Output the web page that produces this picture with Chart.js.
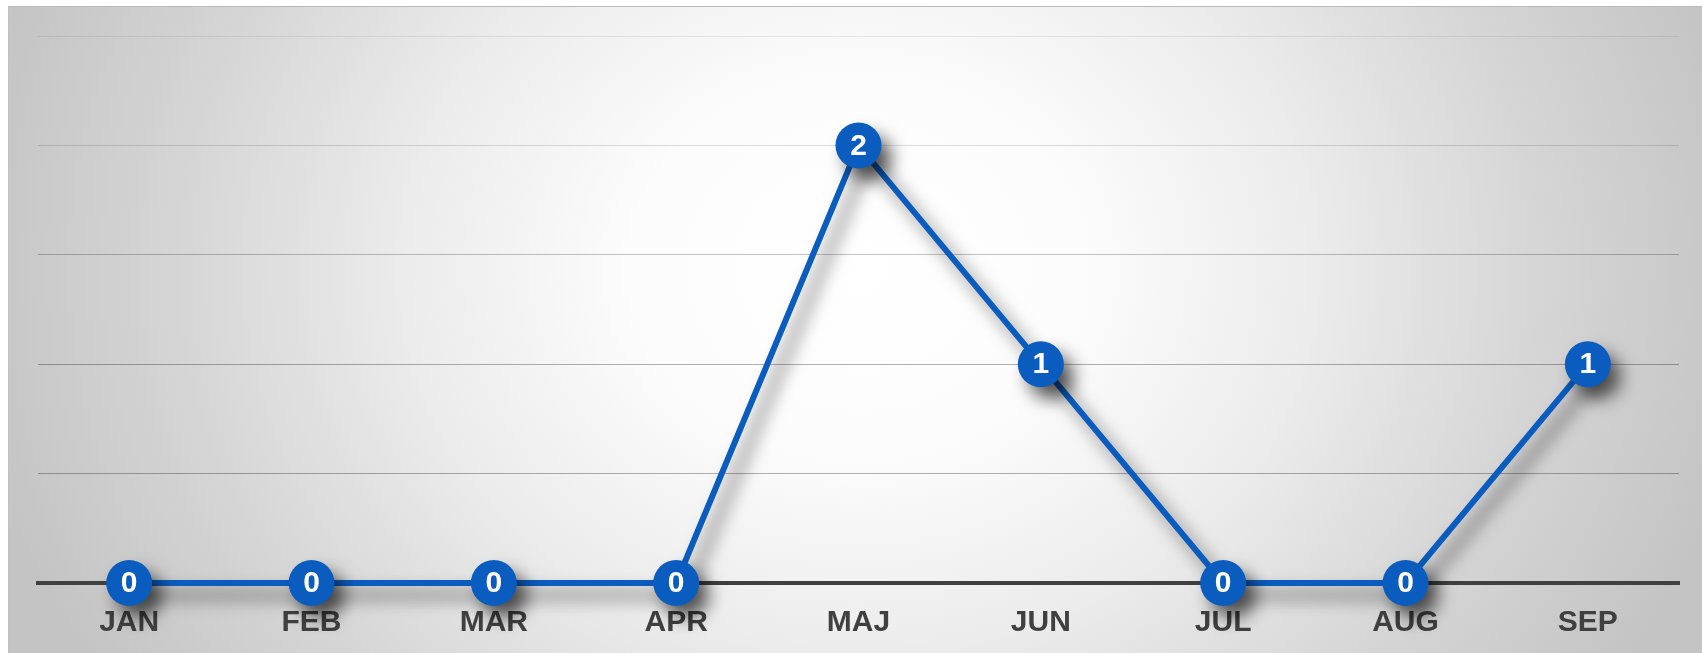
<!DOCTYPE html>
<html>
<head>
<meta charset="utf-8">
<script src="https://cdn.jsdelivr.net/npm/chart.js@4"></script>
<style>
  html, body { margin: 0; padding: 0; background: #fff; width: 1702px; height: 653px; overflow: hidden; }
  #panel {
    position: absolute; left: 8px; top: 6px; width: 1694px; height: 647px;
    box-sizing: border-box; border-top: 1px solid #b9b9b9; border-left: 1px solid #c2c2c2;
    background: radial-gradient(ellipse 900px 760px at 850px 260px, #ffffff 0%, #fcfcfc 25%, #ececec 50%, #d6d6d6 75%, #c4c4c4 100%);
  }
  #chart { position: absolute; left: 8px; top: 6px; }
</style>
</head>
<body>
<div id="panel"></div>
<canvas id="chart" width="1694" height="647"></canvas>
<script>
// månader och antal
const months = ['JAN', 'FEB', 'MAR', 'APR', 'MAJ', 'JUN', 'JUL', 'AUG', 'SEP'];
const counts = [0, 0, 0, 0, 2, 1, 0, 0, 1];
const yMax = 2.5;
const yStep = 0.5;

const blue = '#0a5cbe';

// skugga under linjen och punkterna
const shadowPlugin = {
    id: 'shadow',
    beforeDatasetDraw(chart) {
        const ctx = chart.ctx;
        ctx.save();
        ctx.shadowColor = 'rgba(0,0,0,0.62)';
        ctx.shadowBlur = 17;
        ctx.shadowOffsetX = 10;
        ctx.shadowOffsetY = 12;
    },
    afterDatasetDraw(chart) {
        chart.ctx.restore();
    }
};

// siffrorna i cirklarna
const valueLabels = {
    id: 'valueLabels',
    afterDatasetsDraw(chart) {
        const ctx = chart.ctx;
        const meta = chart.getDatasetMeta(0);
        ctx.save();
        ctx.fillStyle = '#ffffff';
        ctx.font = 'bold 30px "Liberation Sans", Arial, sans-serif';
        ctx.textAlign = 'center';
        ctx.textBaseline = 'middle';
        meta.data.forEach((pt, i) => {
            ctx.fillText(String(counts[i]), pt.x, pt.y + 1);
        });
        ctx.restore();
    }
};

new Chart(document.getElementById('chart'), {
    type: 'line',
    data: {
        labels: months,
        datasets: [{
            data: counts,
            borderColor: blue,
            backgroundColor: blue,
            borderWidth: 6,
            pointRadius: 23,
            pointHoverRadius: 23,
            pointBorderWidth: 0,
            pointBackgroundColor: blue,
            tension: 0,
            clip: false
        }]
    },
    options: {
        responsive: false,
        animation: false,
        events: [],
        layout: { padding: { left: 30, right: 16, top: 30, bottom: 0 } },
        plugins: { legend: { display: false }, tooltip: { enabled: false } },
        scales: {
            x: {
                offset: true,
                grid: { display: false, drawTicks: false },
                border: { display: true, color: '#404040', width: 4 },
                ticks: {
                    color: '#404040',
                    padding: 22,
                    font: { family: '"Liberation Sans", Arial, sans-serif', size: 30, weight: 'bold' }
                },
                afterFit(axis) { axis.height = 70; }
            },
            y: {
                min: 0,
                max: yMax,
                ticks: { display: false, stepSize: yStep },
                border: { display: false },
                grid: {
                    drawTicks: false,
                    lineWidth: 1,
                    color(c) {
                        const v = c.tick.value;
                        if (v === 0) return 'rgba(0,0,0,0)';
                        if (v >= 2.5) return 'rgba(0,0,0,0.07)';
                        if (v >= 2) return 'rgba(0,0,0,0.13)';
                        if (v >= 1.5) return 'rgba(0,0,0,0.24)';
                        return 'rgba(0,0,0,0.3)';
                    }
                }
            }
        }
    },
    plugins: [shadowPlugin, valueLabels]
});
</script>
</body>
</html>
